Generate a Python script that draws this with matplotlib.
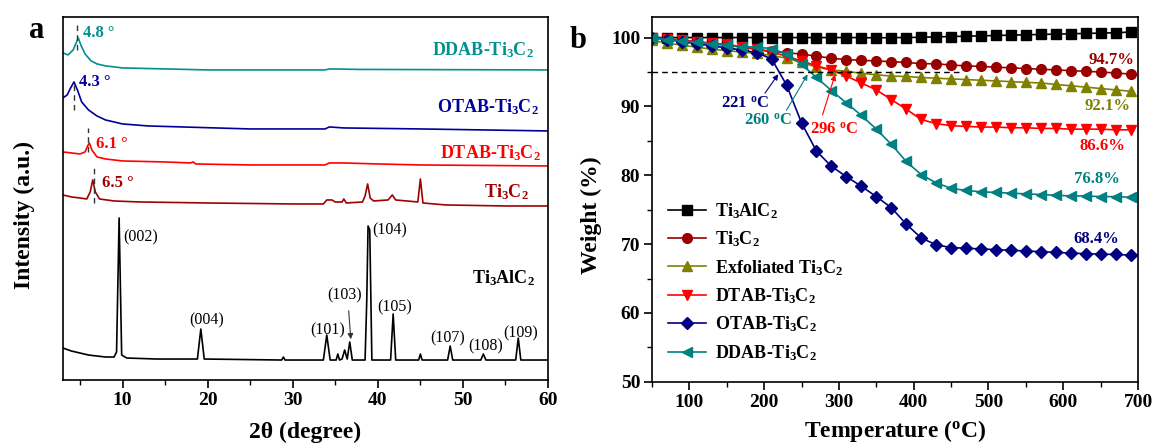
import matplotlib
matplotlib.use('Agg')
import matplotlib.pyplot as plt
from matplotlib.ticker import MultipleLocator

plt.rcParams['font.family'] = ['Liberation Serif', 'DejaVu Serif']
plt.rcParams['font.weight'] = 'bold'
plt.rcParams['axes.labelweight'] = 'bold'
plt.rcParams['mathtext.fontset'] = 'custom'
plt.rcParams['mathtext.rm'] = 'Liberation Serif:bold'
plt.rcParams['mathtext.it'] = 'Liberation Serif:bold'
plt.rcParams['mathtext.bf'] = 'Liberation Serif:bold'

# ---------------- (a) XRD, intensity in arbitrary units (stacked) ----------------
ti3alc2_x = [3.0, 4, 5, 6, 7, 8, 9.0, 9.3, 9.6, 9.9, 10.5, 14, 18.8, 19.2, 19.6, 28.7, 28.9, 29.1,
             33.6, 34.0, 34.4, 35.1, 35.3, 35.5, 35.8, 36.1, 36.4, 36.7, 37.0, 38.5, 38.7, 38.85,
             39.05, 39.3, 41.5, 41.8, 42.1, 44.8, 45.0, 45.2, 48.2, 48.5, 48.8, 52.1, 52.4, 52.7,
             56.2, 56.5, 56.8, 60]
ti3alc2_y = [32, 29, 27, 25, 24, 23, 23, 28, 162, 25, 22, 21, 21, 51, 21, 20, 23, 20,
             20, 45, 20, 20, 26, 20, 21, 30, 21, 38, 20, 20, 80, 154,
             150, 20, 20, 66, 20, 20, 26, 20, 20, 34, 20, 20, 26, 20,
             20, 42, 20, 20]

ti3c2_x = [3.0, 4, 5, 5.8, 6.2, 6.5, 6.8, 7.3, 9, 12, 20, 30, 33.6, 34.0, 34.6, 35.0, 35.8, 36.0,
           36.3, 38.2, 38.5, 38.8, 39.1, 39.5, 41.2, 41.7, 42.1, 44.7, 45.0, 45.3, 48, 55, 60]
ti3c2_y = [185, 183, 182, 181, 188, 200, 188, 181, 179, 178, 177, 176, 176, 180, 180, 178, 178, 181,
           177, 178, 184, 196, 182, 179, 180, 185, 180, 178, 201, 177, 175, 174, 174]

dtab_x = [3.0, 4, 5, 5.6, 5.9, 6.1, 6.4, 7, 8, 10, 15, 18, 18.3, 18.6, 25, 33.8, 34.3, 36, 40, 45, 60]
dtab_y = [228, 227, 226, 228, 234, 237, 230, 223, 221, 219, 218, 217, 218, 216, 215, 215, 217, 217, 216, 215, 214]

otab_x = [3.0, 3.5, 3.9, 4.3, 4.7, 5.2, 6, 7, 8, 10, 13, 17, 25, 33.8, 34.3, 36, 45, 60]
otab_y = [282, 285, 292, 298, 290, 278, 270, 264, 260, 256, 254, 253, 251, 251, 253, 252, 251, 249]

ddab_x = [3.0, 3.6, 4.2, 4.6, 4.8, 5.1, 5.6, 6.3, 7, 8, 10, 15, 20, 33.8, 34.3, 38, 60]
ddab_y = [327, 325, 330, 338, 342, 335, 326, 319, 316, 314, 312, 311, 310, 310, 311, 310.5, 310]

hkl_labels = ['(002)', '(004)', '(101)', '(103)', '(104)', '(105)', '(107)', '(108)', '(109)']
hkl_x = [10.1, 19.9, 34.1, 36.1, 39.4, 42.0, 48.2, 52.7, 56.8]
hkl_y = [143, 60, 50, 85, 150, 73, 42, 34, 47]

shift_labels = ['4.8 °', '4.3 °', '6.1 °', '6.5 °']
shift_pos = [4.7, 4.25, 6.0, 6.6]

# ---------------- (b) TGA ----------------
temp = list(range(50, 700, 20))
w_ti3alc2 = [100.0, 100.0, 100.0, 100.0, 100.0, 100.0, 100.0, 100.0, 100.0, 100.0, 100.0, 100.0,
             100.0, 100.0, 100.0, 99.95, 100.0, 100.0, 100.05, 100.1, 100.15, 100.2, 100.25, 100.3,
             100.35, 100.4, 100.45, 100.5, 100.55, 100.6, 100.65, 100.7, 100.8]
w_ti3c2 = [100.0, 99.8, 99.6, 99.4, 99.1, 98.9, 98.6, 98.3, 98.0, 97.8, 97.6, 97.3, 97.0, 96.8,
           96.7, 96.6, 96.5, 96.4, 96.2, 96.2, 96.0, 95.9, 95.8, 95.7, 95.6, 95.5, 95.4, 95.3,
           95.2, 95.1, 95.0, 94.85, 94.7]
w_exf = [99.6, 99.2, 98.9, 98.6, 98.3, 98.1, 97.9, 97.7, 97.4, 97.0, 96.4, 95.7, 95.3, 95.1,
         94.8, 94.6, 94.4, 94.35, 94.2, 94.1, 94.0, 93.9, 93.8, 93.7, 93.6, 93.5, 93.4, 93.2,
         93.0, 92.8, 92.6, 92.4, 92.2]
w_dtab = [100.0, 99.8, 99.6, 99.4, 99.2, 99.0, 98.7, 98.3, 97.9, 97.3, 96.6, 95.9, 95.3, 94.4,
          93.4, 92.4, 91.0, 89.6, 88.1, 87.5, 87.2, 87.1, 87.0, 87.0, 86.9, 86.9, 86.8, 86.8,
          86.7, 86.7, 86.7, 86.6, 86.6]
w_otab = [100.0, 99.7, 99.4, 99.1, 98.8, 98.5, 98.2, 97.8, 96.9, 93.1, 87.6, 83.5, 81.3, 79.8,
          78.4, 76.9, 75.3, 72.9, 70.9, 69.9, 69.5, 69.4, 69.3, 69.2, 69.1, 69.0, 68.9, 68.8,
          68.7, 68.6, 68.55, 68.5, 68.4]
w_ddab = [100.0, 99.7, 99.5, 99.3, 99.1, 98.9, 98.7, 98.6, 98.4, 97.6, 96.1, 94.2, 92.3, 90.5,
          88.7, 86.7, 84.5, 82.0, 80.1, 78.9, 78.1, 77.8, 77.6, 77.5, 77.4, 77.3, 77.2, 77.1,
          77.0, 77.0, 76.9, 76.9, 76.8]

onset_temps = [221, 260, 296]
residues = ['94.7%', '92.1%', '86.6%', '76.8%', '68.4%']

c_black = 'black'
c_dred = '#990000'
c_olive = '#808000'
c_red = '#ff0000'
c_navy = '#000080'
c_teal = '#008080'

fig = plt.figure(figsize=(11.55, 4.45), dpi=100)
ax1 = fig.add_axes([0.0545, 0.146, 0.42, 0.816])
ax2 = fig.add_axes([0.5645, 0.142, 0.4208, 0.82])

# ---- panel a ----
ax1.plot(ti3alc2_x, ti3alc2_y, color=c_black, lw=1.2)
ax1.plot(ti3c2_x, ti3c2_y, color='#a00000', lw=1.2)
ax1.plot(dtab_x, dtab_y, color=c_red, lw=1.2)
ax1.plot(otab_x, otab_y, color='#000099', lw=1.2)
ax1.plot(ddab_x, ddab_y, color='#009090', lw=1.2)

dash_ranges = [(330, 357), (270, 297), (228, 252), (177, 213)]
shift_cols = ['#009090', '#000099', c_red, '#a00000']
shift_txt_x = [5.3, 4.9, 6.9, 7.6]
shift_txt_y = [347, 298, 236, 197]
for i in range(4):
    ax1.plot([shift_pos[i], shift_pos[i]], dash_ranges[i], color='#333333', ls=(0, (4, 3)), lw=1.0)
    ax1.text(shift_txt_x[i], shift_txt_y[i], shift_labels[i], color=shift_cols[i],
             fontsize=12, ha='left', va='center')

name_txt = [r'DDAB-Ti$_3$C$_2$', r'OTAB-Ti$_3$C$_2$', r'DTAB-Ti$_3$C$_2$', r'Ti$_3$C$_2$', r'Ti$_3$AlC$_2$']
name_x = [52.3, 52.9, 53.2, 55.1, 54.7]
name_y = [330, 273, 227, 188, 102]
name_c = ['#009090', '#000099', c_red, '#a00000', c_black]
for t, x, y, c in zip(name_txt, name_x, name_y, name_c):
    ax1.text(x, y, t, color=c, fontsize=13, ha='center', va='center')

for i, lab in enumerate(hkl_labels):
    ha = 'left' if lab in ('(002)', '(104)') else 'center'
    ax1.text(hkl_x[i], hkl_y[i], lab, fontsize=11.5, fontweight='normal', ha=ha, va='center')
ax1.annotate('', xy=(36.85, 38), xytext=(36.55, 72),
             arrowprops=dict(arrowstyle='-|>', color='#333333', lw=0.8, mutation_scale=8))

ax1.set_xlim(3, 60)
ax1.set_ylim(0, 363)
ax1.set_yticks([])
ax1.xaxis.set_major_locator(MultipleLocator(10))
ax1.xaxis.set_minor_locator(MultipleLocator(5))
ax1.set_xlabel('2θ (degree)', fontsize=17)
ax1.set_ylabel('Intensity (a.u.)', fontsize=17)
ax1.xaxis.set_label_coords(0.5, -0.114)
ax1.yaxis.set_label_coords(-0.058, 0.455)

# ---- panel b ----
series = [(w_ti3alc2, c_black, 's', r'Ti$_3$AlC$_2$'),
          (w_ti3c2, c_dred, 'o', r'Ti$_3$C$_2$'),
          (w_exf, c_olive, '^', r'Exfoliated Ti$_3$C$_2$'),
          (w_dtab, c_red, 'v', r'DTAB-Ti$_3$C$_2$'),
          (w_otab, c_navy, 'D', r'OTAB-Ti$_3$C$_2$'),
          (w_ddab, c_teal, '<', r'DDAB-Ti$_3$C$_2$')]
for w, c, m, lab in series:
    ms = 6 if m == 'D' else 7
    ax2.plot(temp, w, color=c, marker=m, ms=ms, lw=1.2, label=lab)

ax2.plot([50, 460], [95, 95], color='black', ls=(0, (4, 3)), lw=1.0)

onset_cols = [c_navy, c_teal, c_red]
onset_txt_xy = [(175, 90.4), (205, 87.9), (293, 86.6)]
onset_tail = [(199, 91.6), (228, 89.1), (277, 88.4)]
for i in range(3):
    ax2.text(onset_txt_xy[i][0], onset_txt_xy[i][1], '%d $^{\\rm o}$C' % onset_temps[i],
             color=onset_cols[i], fontsize=12, ha='center', va='center')
    ax2.annotate('', xy=(onset_temps[i], 95), xytext=onset_tail[i],
                 arrowprops=dict(arrowstyle='-|>', color=onset_cols[i], lw=0.8, mutation_scale=8))

res_cols = [c_dred, c_olive, c_red, c_teal, c_navy]
res_xy = [(664, 96.8), (659, 90.1), (652, 84.2), (645, 79.4), (644, 70.8)]
for i in range(5):
    ax2.text(res_xy[i][0], res_xy[i][1], residues[i], color=res_cols[i], fontsize=12,
             ha='center', va='center')

ax2.set_xlim(50, 700)
ax2.set_ylim(50, 103)
ax2.xaxis.set_major_locator(MultipleLocator(100))
ax2.xaxis.set_minor_locator(MultipleLocator(50))
ax2.yaxis.set_major_locator(MultipleLocator(10))
ax2.yaxis.set_minor_locator(MultipleLocator(5))
ax2.set_xlabel(r'Temperature ($^{\rm o}$C)', fontsize=17)
ax2.set_ylabel('Weight (%)', fontsize=17)
ax2.xaxis.set_label_coords(0.5, -0.098)
ax2.yaxis.set_label_coords(-0.103, 0.457)
ax2.legend(loc='upper left', bbox_to_anchor=(0.01, 0.525), frameon=False, fontsize=13,
           handlelength=2.1, handletextpad=0.5, labelspacing=0.48, borderaxespad=0.2)

for ax in (ax1, ax2):
    for s in ax.spines.values():
        s.set_linewidth(1.2)
    ax.tick_params(which='major', direction='out', length=6, width=1.2, labelsize=14, pad=2.5,
                   top=False, right=False)
    ax.tick_params(which='minor', direction='out', length=3.5, width=1.0, top=False, right=False)

fig.text(37 / 1155, 1 - 30 / 445, 'a', fontsize=22, ha='center', va='center')
fig.text(578 / 1155, 1 - 40 / 445, 'b', fontsize=22, ha='center', va='center')

fig.savefig('out.png', dpi=100)
